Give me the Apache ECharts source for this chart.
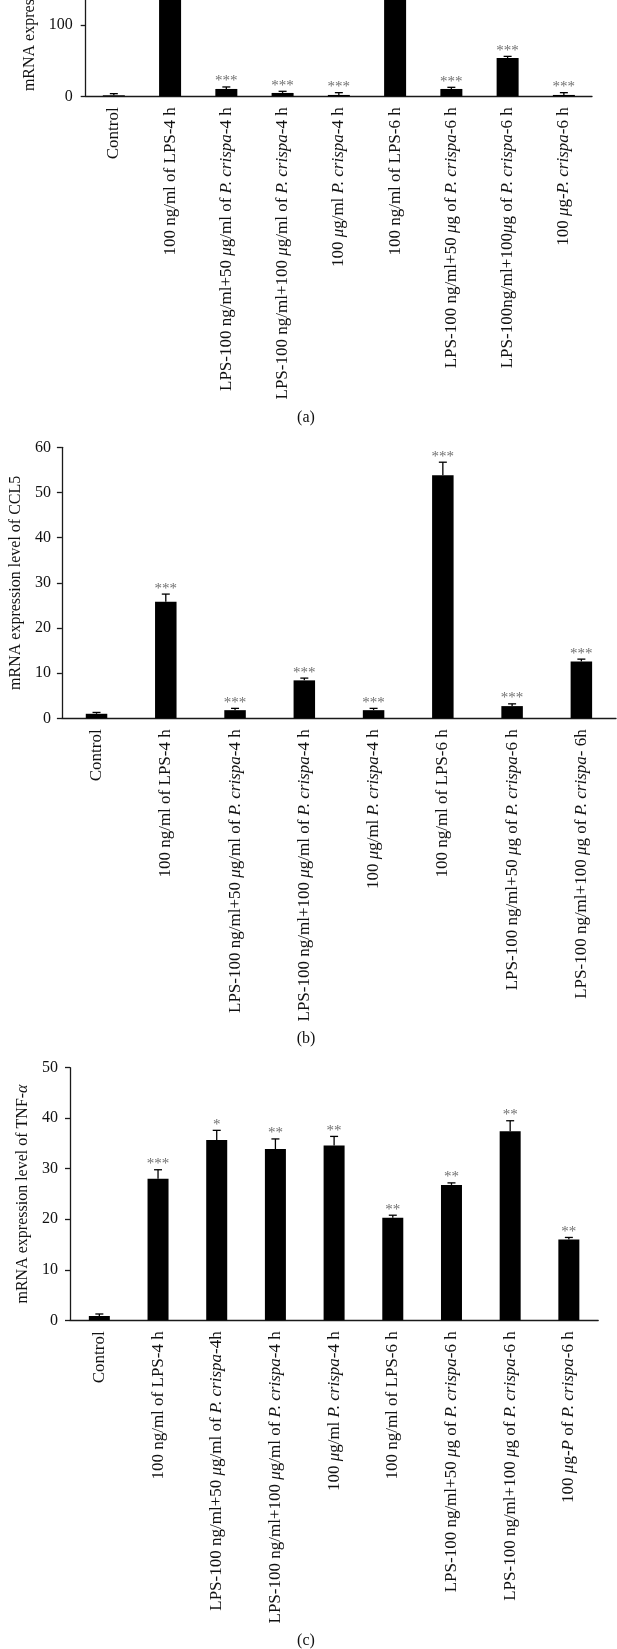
<!DOCTYPE html>
<html>
<head>
<meta charset="utf-8">
<script src="https://cdn.jsdelivr.net/npm/echarts@6/dist/echarts.min.js"></script>
<style>
  html, body { margin: 0; padding: 0; background: #fff; overflow: hidden; }
  /* the top panel is cropped in the original figure, so the canvas starts above the page */
  #chart { position: absolute; left: 0; top: -140px; width: 617px; height: 1789px; }
</style>
</head>
<body>
<div id="chart"></div>
<script>
// panel (a)
const catsA = [
  "Control",
  "100 ng/ml of LPS-4 h",
  "LPS-100 ng/ml+50 μg/ml of P. crispa-4 h",
  "LPS-100 ng/ml+100 μg/ml of P. crispa-4 h",
  "100 μg/ml P. crispa-4 h",
  "100 ng/ml of LPS-6 h",
  "LPS-100 ng/ml+50 μg of P. crispa-6 h",
  "LPS-100ng/ml+100μg of P. crispa-6 h",
  "100 μg-P. crispa-6 h"
];
const valsA = [1.4, 250, 10.3, 4.7, 1.9, 270, 10.3, 53.7, 1.9];
const errsA = [2.3, 15, 2.8, 2.3, 3.2, 15, 2.3, 2.3, 3.2];
const starsA = ["", "", "***", "***", "***", "", "***", "***", "***"];
const ticksA = { min: 0, max: 300, interval: 100 };

// panel (b)
const catsB = [
  "Control",
  "100 ng/ml of LPS-4 h",
  "LPS-100 ng/ml+50 μg/ml of P. crispa-4 h",
  "LPS-100 ng/ml+100 μg/ml of P. crispa-4 h",
  "100 μg/ml P. crispa-4 h",
  "100 ng/ml of LPS-6 h",
  "LPS-100 ng/ml+50 μg of P. crispa-6 h",
  "LPS-100 ng/ml+100 μg of P. crispa- 6h"
];
const valsB = [1.0, 25.8, 1.8, 8.4, 1.8, 53.8, 2.7, 12.6];
const errsB = [0.3, 1.7, 0.4, 0.5, 0.4, 2.9, 0.5, 0.5];
const starsB = ["", "***", "***", "***", "***", "***", "***", "***"];
const ticksB = { min: 0, max: 60, interval: 10 };

// panel (c)
const catsC = [
  "Control",
  "100 ng/ml of LPS-4 h",
  "LPS-100 ng/ml+50 μg/ml of P. crispa-4h",
  "LPS-100 ng/ml+100 μg/ml of P. crispa-4 h",
  "100 μg/ml P. crispa-4 h",
  "100 ng/ml of LPS-6 h",
  "LPS-100 ng/ml+50 μg of P. crispa-6 h",
  "LPS-100 ng/ml+100 μg of P. crispa-6 h",
  "100 μg-P of P. crispa-6 h"
];
const valsC = [0.85, 28.0, 35.7, 33.9, 34.6, 20.3, 26.8, 37.4, 16.0];
const errsC = [0.4, 1.8, 1.9, 2.0, 1.8, 0.5, 0.4, 2.1, 0.4];
const starsC = ["", "***", "*", "**", "**", "**", "**", "**", "**"];
const ticksC = { min: 0, max: 50, interval: 10 };

const FONT = "Liberation Serif";
const AXIS_COLOR = "#1a1a1a";
const OFF = 140; // canvas starts this far above the page

// italic bits: μ, P. crispa, and the lone P in "μg-P of"
function italicize(s) {
  return s.replace(/P\. crispa|μ|(?<=-)P(?= of)/g, m => "{i|" + m + "}");
}

function xAxis(idx, cats) {
  return {
    type: "category", gridIndex: idx, data: cats,
    axisLine: { lineStyle: { color: AXIS_COLOR, width: 1.3 } },
    axisTick: { length: 5, lineStyle: { color: AXIS_COLOR, width: 1.3 } },
    axisLabel: {
      rotate: 90, margin: 11, interval: 0, color: "#111",
      fontFamily: FONT, fontSize: 17,
      formatter: italicize,
      rich: { i: { fontStyle: "italic", fontFamily: FONT, fontSize: 17, color: "#111" } }
    }
  };
}

function yAxis(idx, ticks, name, gap, lblMargin) {
  return {
    type: "value", gridIndex: idx,
    min: ticks.min, max: ticks.max, interval: ticks.interval,
    name: name, nameLocation: "middle", nameGap: gap,
    nameTextStyle: {
      fontFamily: FONT, fontSize: 16, color: "#111",
      rich: { i: { fontStyle: "italic", fontFamily: FONT, fontSize: 16, color: "#111" } }
    },
    axisLine: { show: true, lineStyle: { color: AXIS_COLOR, width: 1.3 } },
    axisTick: { show: true, length: 5, lineStyle: { color: AXIS_COLOR, width: 1.3 } },
    axisLabel: { margin: lblMargin, color: "#111", fontFamily: FONT, fontSize: 16 },
    splitLine: { show: false }
  };
}

function bars(idx, vals, w) {
  return {
    type: "bar", xAxisIndex: idx, yAxisIndex: idx, data: vals,
    barWidth: w, itemStyle: { color: "#000" }, silent: true
  };
}

function errs(idx, vals, e, stars) {
  return {
    type: "custom", xAxisIndex: idx, yAxisIndex: idx, z: 3, silent: true,
    data: vals.map((v, i) => [i, v, v + e[i]]),
    renderItem: (params, api) => {
      const base = api.coord([api.value(0), api.value(1)]);
      const top = api.coord([api.value(0), api.value(2)]);
      const x = base[0];
      const line = { stroke: "#000", lineWidth: 1.3 };
      const kids = [
        { type: "line", shape: { x1: x, y1: base[1], x2: x, y2: top[1] }, style: line },
        { type: "line", shape: { x1: x - 4, y1: top[1], x2: x + 4, y2: top[1] }, style: line }
      ];
      const s = stars[params.dataIndex];
      if (s) {
        kids.push({
          type: "text", x: x, y: top[1] + 2,
          style: { text: s, fill: "#707070", font: "15px 'Liberation Serif'", textAlign: "center", textVerticalAlign: "bottom" }
        });
      }
      return { type: "group", children: kids };
    }
  };
}

function panelTag(txt, y) {
  return {
    type: "text", x: 306, y: y + OFF,
    style: { text: txt, font: "16px 'Liberation Serif'", fill: "#111", textAlign: "center", textVerticalAlign: "middle" }
  };
}

const chart = echarts.init(document.getElementById("chart"));
chart.setOption({
  animation: false,
  backgroundColor: "#fff",
  grid: [
    { left: 85.7, right: 25, top: OFF - 117.6, height: 213.9 },
    { left: 53, right: 1, top: OFF + 447.3, height: 271 },
    { left: 70, right: 18.8, top: OFF + 1067.7, height: 252.6 }
  ],
  xAxis: [xAxis(0, catsA), xAxis(1, catsB), xAxis(2, catsC)],
  yAxis: [
    yAxis(0, ticksA, "mRNA expression level of IL-6", 43, 13),
    yAxis(1, ticksB, "mRNA expression level of CCL5", 35, 11),
    yAxis(2, ticksC, "mRNA expression level of TNF-{i|α}", 32, 12)
  ],
  series: [
    bars(0, valsA, 22), errs(0, valsA, errsA, starsA),
    bars(1, valsB, 21.5), errs(1, valsB, errsB, starsB),
    bars(2, valsC, 21), errs(2, valsC, errsC, starsC)
  ],
  graphic: [panelTag("(a)", 418), panelTag("(b)", 1039), panelTag("(c)", 1641)]
});
</script>
</body>
</html>
